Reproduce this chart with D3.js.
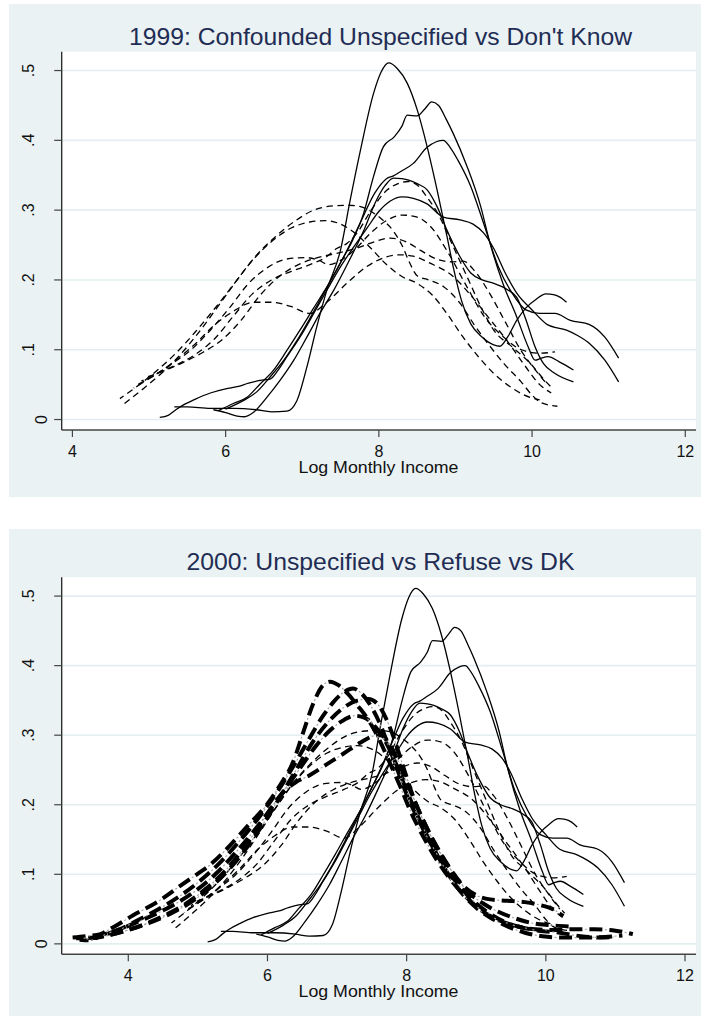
<!DOCTYPE html>
<html><head><meta charset="utf-8">
<script src="https://cdn.jsdelivr.net/npm/d3@7/dist/d3.min.js"></script>
<style>html,body{margin:0;padding:0;background:#fff;} svg{display:block;}</style>
</head><body>
<svg id="chart" width="709" height="1016"></svg>
<script>
// ---------------- DATA ----------------
const titles = ["1999: Confounded Unspecified vs Don't Know", "2000: Unspecified vs Refuse vs DK"];
const xAxisTitle = "Log Monthly Income";
const yTicks = [0, 0.1, 0.2, 0.3, 0.4, 0.5];
const yTickLabels = ["0", ".1", ".2", ".3", ".4", ".5"];
const xTicks = [4, 6, 8, 10, 12];
const xTickLabels = ["4", "6", "8", "10", "12"];

// Solid thin densities (both panels)
const solidA = [[5.33,0.018],[5.5,0.018],[5.8,0.016],[6.1,0.016],[6.4,0.014],[6.6,0.011],[6.8,0.012],[6.93,0.027],[7.06,0.075],[7.19,0.133],[7.32,0.185],[7.5,0.243],[7.625,0.314],[7.76,0.386],[7.93,0.467],[8.03,0.498],[8.13,0.511],[8.24,0.503],[8.37,0.482],[8.5,0.444],[8.63,0.391],[8.76,0.329],[8.89,0.262],[8.98,0.214],[9.08,0.17],[9.2,0.137],[9.35,0.118],[9.5,0.107],[9.58,0.105],[9.68,0.118],[9.8,0.142],[9.92,0.16],[10.05,0.172],[10.18,0.18],[10.28,0.179],[10.37,0.175],[10.45,0.168]];
const solidB = [[6.0,0.015],[6.23,0.027],[6.41,0.04],[6.58,0.061],[6.76,0.085],[6.93,0.113],[7.1,0.145],[7.3,0.185],[7.5,0.225],[7.65,0.255],[7.8,0.295],[7.93,0.348],[8.06,0.391],[8.2,0.405],[8.3,0.42],[8.37,0.436],[8.5,0.435],[8.6,0.445],[8.69,0.455],[8.78,0.45],[8.88,0.43],[8.97,0.41],[9.15,0.363],[9.33,0.305],[9.44,0.257],[9.62,0.195],[9.8,0.147],[9.95,0.104],[10.04,0.085],[10.12,0.088],[10.21,0.09],[10.35,0.083],[10.54,0.071]];
const solidC = [[5.91,0.013],[6.1,0.023],[6.28,0.032],[6.45,0.051],[6.62,0.07],[6.8,0.099],[6.97,0.128],[7.15,0.16],[7.35,0.195],[7.55,0.235],[7.75,0.28],[7.95,0.325],[8.1,0.345],[8.19,0.349],[8.28,0.355],[8.45,0.367],[8.63,0.39],[8.75,0.398],[8.84,0.4],[8.93,0.39],[9.03,0.372],[9.2,0.334],[9.38,0.277],[9.56,0.219],[9.74,0.181],[9.92,0.157],[10.1,0.152],[10.3,0.152],[10.5,0.142],[10.75,0.136],[10.95,0.118],[11.13,0.088]];
const solidD = [[5.84,0.014],[6.0,0.01],[6.15,0.005],[6.25,0.004],[6.36,0.01],[6.54,0.032],[6.71,0.056],[6.89,0.085],[7.06,0.118],[7.23,0.152],[7.41,0.185],[7.6,0.225],[7.8,0.27],[7.95,0.31],[8.08,0.335],[8.19,0.346],[8.3,0.345],[8.39,0.343],[8.5,0.338],[8.63,0.329],[8.76,0.305],[8.89,0.271],[9.05,0.235],[9.2,0.21],[9.35,0.2],[9.5,0.195],[9.68,0.186],[9.8,0.175],[9.92,0.143],[10.04,0.104],[10.15,0.08],[10.3,0.066],[10.54,0.054]];
const solidE = [[5.14,0.003],[5.25,0.006],[5.35,0.014],[5.45,0.021],[5.6,0.029],[5.8,0.038],[6.0,0.044],[6.15,0.047],[6.3,0.052],[6.45,0.056],[6.58,0.058],[6.68,0.07],[6.8,0.09],[6.97,0.118],[7.15,0.152],[7.32,0.185],[7.5,0.219],[7.67,0.247],[7.85,0.275],[8.0,0.298],[8.15,0.313],[8.3,0.319],[8.45,0.317],[8.63,0.309],[8.84,0.29],[9.06,0.286],[9.23,0.28],[9.37,0.267],[9.5,0.245],[9.65,0.21],[9.8,0.181],[10.0,0.157],[10.2,0.136],[10.45,0.128],[10.6,0.12],[10.75,0.109],[10.95,0.085],[11.13,0.054]];

// Dashed thin densities (both panels)
const dashA = [[4.68,0.023],[4.9,0.042],[5.15,0.065],[5.4,0.092],[5.65,0.125],[5.9,0.162],[6.15,0.2],[6.4,0.235],[6.65,0.262],[6.9,0.284],[7.15,0.3],[7.4,0.306],[7.6,0.307],[7.76,0.305],[7.9,0.298],[8.05,0.286],[8.19,0.27],[8.3,0.25],[8.4,0.225],[8.5,0.206],[8.65,0.2],[8.85,0.19],[9.05,0.168],[9.25,0.135],[9.45,0.105],[9.65,0.078],[9.85,0.055],[10.0,0.035],[10.12,0.024],[10.33,0.019]];
const dashB = [[4.62,0.03],[4.85,0.048],[5.1,0.07],[5.35,0.095],[5.6,0.125],[5.85,0.158],[6.1,0.193],[6.35,0.228],[6.6,0.255],[6.85,0.274],[7.1,0.283],[7.3,0.285],[7.5,0.28],[7.7,0.266],[7.9,0.245],[8.1,0.222],[8.3,0.205],[8.5,0.195],[8.7,0.178],[8.9,0.15],[9.1,0.118],[9.3,0.09],[9.5,0.066],[9.7,0.048],[9.9,0.035],[10.1,0.028]];
const dashC = [[4.9,0.055],[5.1,0.066],[5.35,0.078],[5.6,0.093],[5.85,0.115],[6.1,0.148],[6.35,0.18],[6.6,0.2],[6.85,0.212],[7.1,0.222],[7.3,0.232],[7.45,0.245],[7.58,0.252],[7.72,0.268],[7.9,0.3],[8.1,0.328],[8.25,0.338],[8.38,0.341],[8.5,0.336],[8.62,0.32],[8.79,0.291],[8.97,0.248],[9.15,0.205],[9.33,0.162],[9.5,0.128],[9.74,0.104],[9.98,0.08],[10.15,0.058],[10.27,0.044]];
const dashD = [[4.8,0.045],[5.05,0.062],[5.3,0.08],[5.55,0.1],[5.8,0.128],[6.05,0.16],[6.3,0.195],[6.55,0.218],[6.8,0.23],[7.05,0.232],[7.2,0.229],[7.35,0.222],[7.5,0.228],[7.7,0.245],[7.9,0.268],[8.1,0.285],[8.3,0.293],[8.5,0.29],[8.67,0.277],[8.91,0.238],[9.15,0.19],[9.38,0.147],[9.62,0.119],[9.86,0.1],[10.1,0.095],[10.3,0.097]];
const dashE = [[4.95,0.06],[5.2,0.07],[5.45,0.082],[5.7,0.096],[5.95,0.114],[6.2,0.142],[6.45,0.178],[6.7,0.205],[6.95,0.222],[7.2,0.232],[7.45,0.238],[7.7,0.245],[7.95,0.255],[8.15,0.26],[8.35,0.255],[8.55,0.242],[8.75,0.23],[8.95,0.226],[9.1,0.227],[9.25,0.213],[9.45,0.18],[9.65,0.14],[9.85,0.1],[10.05,0.07],[10.2,0.05]];
const dashF = [[4.85,0.05],[5.1,0.065],[5.35,0.085],[5.6,0.108],[5.85,0.135],[6.1,0.155],[6.36,0.168],[6.6,0.168],[6.85,0.162],[7.1,0.152],[7.32,0.168],[7.58,0.195],[7.84,0.219],[8.1,0.233],[8.28,0.236],[8.45,0.234],[8.67,0.224],[8.97,0.205],[9.2,0.178],[9.44,0.145],[9.68,0.112],[9.9,0.078],[10.1,0.05],[10.25,0.038]];

// Thick dash-dot densities (2000 panel only)
const thick1 = [[3.2,0.009],[3.4,0.011],[3.6,0.014],[3.75,0.022],[4.07,0.041],[4.46,0.063],[4.74,0.083],[5.03,0.103],[5.13,0.11],[5.41,0.136],[5.7,0.168],[5.99,0.2],[6.18,0.228],[6.37,0.262],[6.51,0.303],[6.66,0.346],[6.8,0.372],[6.9,0.377],[7.02,0.372],[7.15,0.36],[7.3,0.342],[7.45,0.322],[7.6,0.295],[7.75,0.262],[7.9,0.228],[8.05,0.192],[8.25,0.152],[8.45,0.118],[8.65,0.09],[8.85,0.068],[9.05,0.05],[9.3,0.035],[9.6,0.025],[9.9,0.019],[10.2,0.016],[10.5,0.011],[10.8,0.009],[11.0,0.01]];
const thick2 = [[3.3,0.006],[3.45,0.005],[3.6,0.012],[3.85,0.02],[4.1,0.032],[4.4,0.048],[4.7,0.066],[5.0,0.088],[5.3,0.115],[5.6,0.148],[5.9,0.185],[6.15,0.22],[6.4,0.26],[6.6,0.295],[6.8,0.328],[6.95,0.348],[7.1,0.362],[7.23,0.367],[7.35,0.36],[7.48,0.343],[7.6,0.32],[7.72,0.29],[7.85,0.255],[8.0,0.215],[8.2,0.172],[8.4,0.135],[8.6,0.104],[8.8,0.078],[9.0,0.058],[9.2,0.043],[9.4,0.032],[9.6,0.025],[9.85,0.021],[10.1,0.02],[10.4,0.021],[10.7,0.021],[11.0,0.019],[11.25,0.014]];
const thick3 = [[3.25,0.008],[3.5,0.009],[3.75,0.016],[4.05,0.028],[4.35,0.041],[4.65,0.056],[4.95,0.075],[5.25,0.1],[5.55,0.132],[5.85,0.168],[6.15,0.208],[6.45,0.25],[6.7,0.285],[6.9,0.307],[7.1,0.322],[7.25,0.328],[7.4,0.325],[7.55,0.312],[7.7,0.29],[7.85,0.258],[8.0,0.22],[8.2,0.175],[8.4,0.135],[8.6,0.1],[8.8,0.072],[9.0,0.052],[9.2,0.038],[9.45,0.025],[9.7,0.016],[9.95,0.011],[10.25,0.009],[10.55,0.009],[10.85,0.01],[11.1,0.012]];
const thick4 = [[3.35,0.007],[3.6,0.01],[3.9,0.017],[4.2,0.027],[4.5,0.04],[4.8,0.056],[5.1,0.078],[5.4,0.106],[5.7,0.143],[5.95,0.18],[6.2,0.215],[6.4,0.232],[6.6,0.242],[6.85,0.258],[7.1,0.274],[7.33,0.289],[7.5,0.298],[7.62,0.3],[7.75,0.288],[7.88,0.262],[8.02,0.228],[8.2,0.186],[8.4,0.145],[8.6,0.112],[8.8,0.085],[9.0,0.07],[9.2,0.064],[9.45,0.062],[9.7,0.06],[9.95,0.055],[10.1,0.05],[10.25,0.04]];
const thick5 = [[3.4,0.007],[3.7,0.012],[4.0,0.02],[4.3,0.03],[4.6,0.043],[4.9,0.06],[5.2,0.083],[5.5,0.113],[5.8,0.152],[6.1,0.198],[6.4,0.248],[6.65,0.29],[6.9,0.322],[7.1,0.34],[7.3,0.35],[7.45,0.352],[7.58,0.345],[7.7,0.325],[7.82,0.295],[7.95,0.255],[8.1,0.21],[8.3,0.165],[8.5,0.128],[8.7,0.097],[8.9,0.073],[9.1,0.058],[9.3,0.047],[9.55,0.037],[9.8,0.03],[10.05,0.027],[10.34,0.025]];

const solidSeries = [solidA, solidB, solidC, solidD, solidE];
const dashSeries = [dashA, dashB, dashC, dashD, dashE, dashF];
const thickSeries = [thick1, thick2, thick3, thick4, thick5];

// ---------------- LAYOUT ----------------
const FONT = "Arial, 'Liberation Sans', Helvetica, sans-serif";
const panels = [
  { bg: [9, 4, 692, 493], plot: { x0: 61.7, x1: 696, y0: 51.7, y1: 430 }, xDomain: [3.86, 12.14],
    titleY: 44.5, titleLen: 503, thick: false },
  { bg: [9, 529, 692, 487], plot: { x0: 61.7, x1: 696, y0: 577.3, y1: 954.3 }, xDomain: [3.043, 12.158],
    titleY: 570, titleLen: 388, thick: true }
];
const yDomain = [-0.015, 0.527];

const svg = d3.select("#chart");

panels.forEach((p, i) => {
  const g = svg.append("g");
  g.append("rect").attr("x", p.bg[0]).attr("y", p.bg[1]).attr("width", p.bg[2]).attr("height", p.bg[3])
    .attr("fill", "#eaf2f3");
  const P = p.plot;
  g.append("rect").attr("x", P.x0).attr("y", P.y0).attr("width", P.x1 - P.x0).attr("height", P.y1 - P.y0)
    .attr("fill", "#ffffff");

  const x = d3.scaleLinear().domain(p.xDomain).range([P.x0, P.x1]);
  const y = d3.scaleLinear().domain(yDomain).range([P.y1, P.y0]);

  // gridlines
  g.append("g").selectAll("line").data(yTicks).join("line")
    .attr("x1", P.x0).attr("x2", P.x1)
    .attr("y1", d => y(d)).attr("y2", d => y(d))
    .attr("stroke", "#e4eef0").attr("stroke-width", 1.6);

  const clipId = "clip" + i;
  g.append("clipPath").attr("id", clipId).append("rect")
    .attr("x", P.x0).attr("y", P.y0).attr("width", P.x1 - P.x0).attr("height", P.y1 - P.y0);
  const cg = g.append("g").attr("clip-path", `url(#${clipId})`);

  const line = d3.line().x(d => x(d[0])).y(d => y(d[1])).curve(d3.curveMonotoneX);

  cg.selectAll("path.dash").data(dashSeries).join("path").attr("class", "dash")
    .attr("d", line).attr("fill", "none").attr("stroke", "#000").attr("stroke-width", 1.3)
    .attr("stroke-dasharray", "6.5,4.5").attr("stroke-dashoffset", (d, k) => k * 2);
  cg.selectAll("path.solid").data(solidSeries).join("path").attr("class", "solid")
    .attr("d", line).attr("fill", "none").attr("stroke", "#000").attr("stroke-width", 1.3);

  if (p.thick) {
    cg.selectAll("path.thick").data(thickSeries).join("path").attr("class", "thick")
      .attr("d", line).attr("fill", "none").attr("stroke", "#000").attr("stroke-width", 4)
      .attr("stroke-dasharray", "13,7").attr("stroke-dashoffset", (d, k) => k * 4);
    cg.selectAll("path.thickdot").data(thickSeries).join("path").attr("class", "thickdot")
      .attr("d", line).attr("fill", "none").attr("stroke", "#a0a0a0").attr("stroke-width", 1.1)
      .attr("stroke-dasharray", "2,18").attr("stroke-dashoffset", (d, k) => k * 4 - 15.5);
  }

  // axes
  const axG = g.append("g");
  axG.append("line").attr("x1", P.x0).attr("x2", P.x0).attr("y1", P.y0).attr("y2", P.y1)
    .attr("stroke", "#222").attr("stroke-width", 1.3);
  axG.append("line").attr("x1", P.x0).attr("x2", P.x1).attr("y1", P.y1).attr("y2", P.y1)
    .attr("stroke", "#444").attr("stroke-width", 1.5);

  // y ticks
  axG.selectAll("line.yt").data(yTicks).join("line").attr("class", "yt")
    .attr("x1", P.x0 - 7.5).attr("x2", P.x0).attr("y1", d => y(d)).attr("y2", d => y(d))
    .attr("stroke", "#444").attr("stroke-width", 1.2);
  axG.selectAll("text.yl").data(yTicks).join("text").attr("class", "yl")
    .attr("transform", (d, k) => `translate(${d === 0 ? 47 : 33.5},${y(d)}) rotate(-90)`)
    .attr("text-anchor", "middle").attr("font-family", FONT).attr("font-size", 16)
    .attr("fill", "#111").text((d, k) => yTickLabels[k]);

  // x ticks
  axG.selectAll("line.xt").data(xTicks).join("line").attr("class", "xt")
    .attr("x1", d => x(d)).attr("x2", d => x(d)).attr("y1", P.y1).attr("y2", P.y1 + 7)
    .attr("stroke", "#444").attr("stroke-width", 1.2);
  axG.selectAll("text.xl").data(xTicks).join("text").attr("class", "xl")
    .attr("x", d => x(d)).attr("y", P.y1 + 26.5)
    .attr("text-anchor", "middle").attr("font-family", FONT).attr("font-size", 16)
    .attr("fill", "#111").text((d, k) => xTickLabels[k]);

  // axis title
  g.append("text").attr("x", 378.5).attr("y", P.y1 + 42.5).attr("text-anchor", "middle")
    .attr("font-family", FONT).attr("font-size", 16.5).attr("fill", "#111")
    .attr("textLength", 160).attr("lengthAdjust", "spacingAndGlyphs").text(xAxisTitle);

  // title
  g.append("text").attr("x", 380.5).attr("y", p.titleY).attr("text-anchor", "middle")
    .attr("font-family", FONT).attr("font-size", 24).attr("fill", "#1f2d55")
    .attr("textLength", p.titleLen).attr("lengthAdjust", "spacingAndGlyphs").text(titles[i]);
});
</script>
</body></html>
